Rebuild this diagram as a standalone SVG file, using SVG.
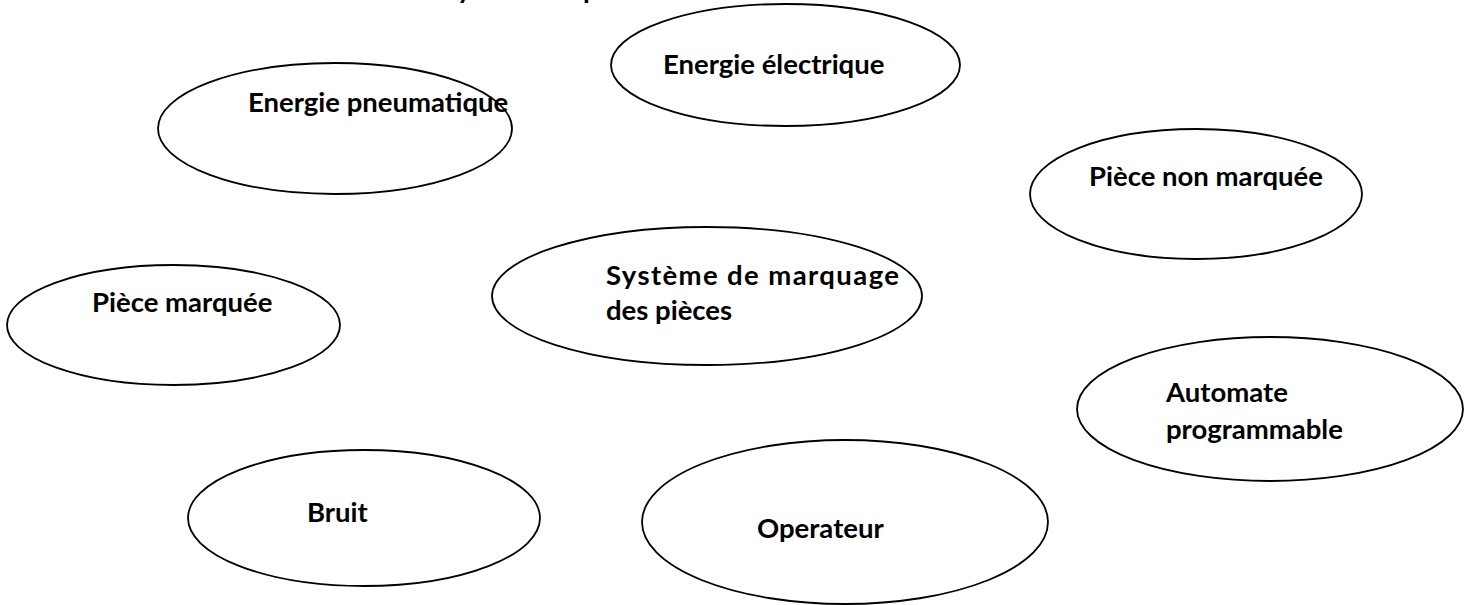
<svg xmlns="http://www.w3.org/2000/svg" width="1470" height="605" viewBox="0 0 1470 605">
<style>
.n ellipse{fill:#fff;stroke:#000;stroke-width:1.8}
.n text,.frag{font-family:Lato,"Open Sans","Liberation Sans",sans-serif;font-weight:bold;font-size:27.5px;fill:#000}
</style>
<rect width="1470" height="605" fill="#fff"/>
<text class="frag" x="457" y="-1">y</text>
<text class="frag" x="583" y="-1">p</text>
<g id="connectors"></g>
<g id="energie-pneumatique" class="n"><ellipse cx="335" cy="128.5" rx="177" ry="65.5"/><text x="248" y="112">Energie pneumatique</text></g>
<g id="energie-electrique" class="n"><ellipse cx="785.5" cy="65" rx="174.5" ry="61"/><text x="663" y="74">Energie électrique</text></g>
<g id="piece-non-marquee" class="n"><ellipse cx="1196" cy="194" rx="166" ry="65"/><text x="1089" y="186">Pièce non marquée</text></g>
<g id="systeme" class="n"><ellipse cx="707" cy="296" rx="215" ry="69"/><text x="606" y="285" textLength="293">Système de marquage</text><text x="606" y="320">des pièces</text></g>
<g id="piece-marquee" class="n"><ellipse cx="173.5" cy="325" rx="166.5" ry="60"/><text x="92" y="312">Pièce marquée</text></g>
<g id="automate" class="n"><ellipse cx="1270" cy="409" rx="193" ry="72"/><text x="1166" y="402">Automate</text><text x="1166" y="439">programmable</text></g>
<g id="bruit" class="n"><ellipse cx="364" cy="518" rx="176" ry="68"/><text x="307" y="522">Bruit</text></g>
<g id="operateur" class="n"><ellipse cx="845" cy="522" rx="203" ry="82"/><text x="757" y="538">Operateur</text></g>
</svg>
